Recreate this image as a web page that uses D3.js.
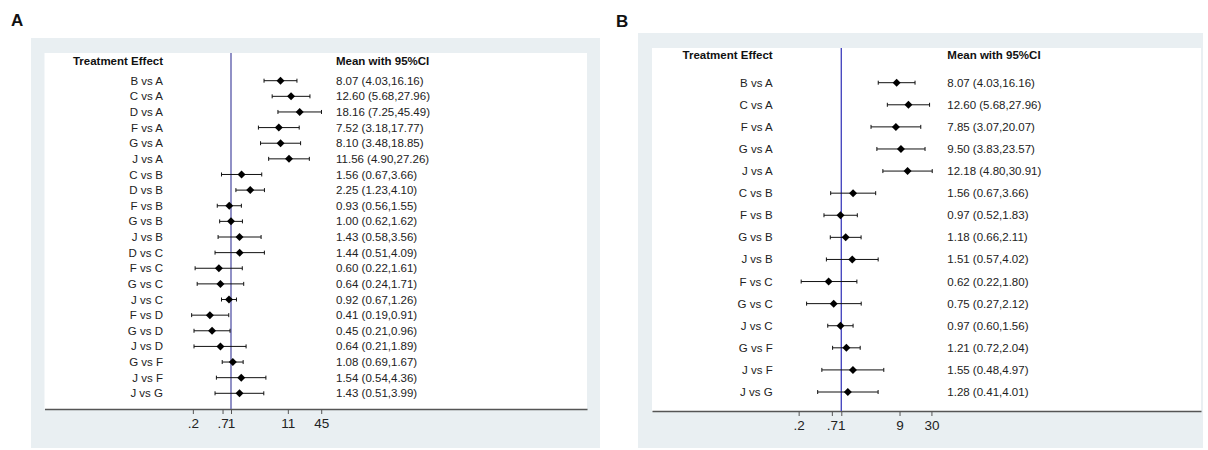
<!DOCTYPE html>
<html>
<head>
<meta charset="utf-8">
<script src="https://cdn.jsdelivr.net/npm/d3@7"></script>
<style>
  html, body { margin: 0; padding: 0; background: #fff; }
  svg { display: block; font-family: "Liberation Sans", Arial, sans-serif; }
</style>
</head>
<body>
<svg id="chart" width="1208" height="450"></svg>
<script>
// ---------- Panel A data ----------
const categoriesA = ["B vs A","C vs A","D vs A","F vs A","G vs A","J vs A","C vs B","D vs B","F vs B","G vs B","J vs B","D vs C","F vs C","G vs C","J vs C","F vs D","G vs D","J vs D","G vs F","J vs F","J vs G"];
const meanA  = [8.07, 12.60, 18.16, 7.52, 8.10, 11.56, 1.56, 2.25, 0.93, 1.00, 1.43, 1.44, 0.60, 0.64, 0.92, 0.41, 0.45, 0.64, 1.08, 1.54, 1.43];
const lowerA = [4.03, 5.68, 7.25, 3.18, 3.48, 4.90, 0.67, 1.23, 0.56, 0.62, 0.58, 0.51, 0.22, 0.24, 0.67, 0.19, 0.21, 0.21, 0.69, 0.54, 0.51];
const upperA = [16.16, 27.96, 45.49, 17.77, 18.85, 27.26, 3.66, 4.10, 1.55, 1.62, 3.56, 4.09, 1.61, 1.71, 1.26, 0.91, 0.96, 1.89, 1.67, 4.36, 3.99];
const ticksA = [0.2, 0.7, 1, 11, 45];
const tickLabelsA = [".2", ".7", "1", "11", "45"];

// ---------- Panel B data ----------
const categoriesB = ["B vs A","C vs A","F vs A","G vs A","J vs A","C vs B","F vs B","G vs B","J vs B","F vs C","G vs C","J vs C","G vs F","J vs F","J vs G"];
const meanB  = [8.07, 12.60, 7.85, 9.50, 12.18, 1.56, 0.97, 1.18, 1.51, 0.62, 0.75, 0.97, 1.21, 1.55, 1.28];
const lowerB = [4.03, 5.68, 3.07, 3.83, 4.80, 0.67, 0.52, 0.66, 0.57, 0.22, 0.27, 0.60, 0.72, 0.48, 0.41];
const upperB = [16.16, 27.96, 20.07, 23.57, 30.91, 3.66, 1.83, 2.11, 4.02, 1.80, 2.12, 1.56, 2.04, 4.97, 4.01];
const ticksB = [0.2, 0.7, 1, 9, 30];
const tickLabelsB = [".2", ".7", "1", "9", "30"];

const headerLeft = "Treatment Effect";
const headerRight = "Mean with 95%CI";

const svg = d3.select("#chart");
const fmt = d3.format(".2f");

function drawPanel(p) {
  const g = svg.append("g");
  // panel letter
  g.append("text").attr("x", p.letterX).attr("y", p.letterY)
    .attr("font-size", 17).attr("font-weight", "bold").attr("fill", "#111")
    .text(p.letter);
  // outer grey box
  g.append("rect").attr("x", p.outer[0]).attr("y", p.outer[1])
    .attr("width", p.outer[2] - p.outer[0]).attr("height", p.outer[3] - p.outer[1])
    .attr("fill", "#e9eff2");
  // inner white region
  g.append("rect").attr("x", p.inner[0]).attr("y", p.inner[1])
    .attr("width", p.inner[2] - p.inner[0]).attr("height", p.inner[3] - p.inner[1])
    .attr("fill", "#ffffff");

  const lo = Math.exp((p.inner[0] - p.refX) / p.slope);
  const hi = Math.exp((p.inner[2] - p.refX) / p.slope);
  const x = d3.scaleLog().domain([lo, hi]).range([p.inner[0], p.inner[2]]);
  const y = d3.scalePoint().domain(p.categories).range([p.rowFirst, p.rowLast]);

  // axis
  const axis = d3.axisBottom(x).tickValues(p.ticks)
    .tickFormat((d, i) => p.tickLabels[i]).tickSize(5).tickSizeOuter(0).tickPadding(4);
  const ag = g.append("g").attr("transform", `translate(0,${p.inner[3]})`).call(axis);
  ag.select(".domain").attr("stroke", "#555").attr("stroke-width", 1.6);
  ag.selectAll(".tick line").attr("stroke", "#555").attr("stroke-width", 1);
  ag.selectAll(".tick text").attr("font-size", 13.5).attr("fill", "#222")
    .attr("font-family", "'Liberation Sans', Arial, sans-serif");

  // reference line at 1
  g.append("line").attr("x1", x(1)).attr("x2", x(1))
    .attr("y1", p.inner[1]).attr("y2", p.inner[3])
    .attr("stroke", p.refColor).attr("stroke-width", 1.4);

  // headers
  g.append("text").attr("x", p.labelRight).attr("y", p.headerY).attr("dy", "0.35em")
    .attr("text-anchor", "end").attr("font-size", 11.5).attr("font-weight", "bold")
    .attr("fill", "#111").text(headerLeft);
  g.append("text").attr("x", p.valueLeft).attr("y", p.headerY).attr("dy", "0.35em")
    .attr("font-size", 11.5).attr("font-weight", "bold")
    .attr("fill", "#111").text(headerRight);

  const rows = p.categories.map((c, i) => ({c, m: p.mean[i], l: p.lower[i], u: p.upper[i]}));

  // row labels
  g.selectAll(".rl").data(rows).enter().append("text")
    .attr("x", p.labelRight).attr("y", d => y(d.c)).attr("dy", "0.35em")
    .attr("text-anchor", "end").attr("font-size", 11.5).attr("fill", "#222")
    .text(d => d.c);
  // value labels
  g.selectAll(".vl").data(rows).enter().append("text")
    .attr("x", p.valueLeft).attr("y", d => y(d.c)).attr("dy", "0.35em")
    .attr("font-size", 11.5).attr("fill", "#222")
    .text(d => `${fmt(d.m)} (${fmt(d.l)},${fmt(d.u)})`);

  // CI lines
  g.selectAll(".ci").data(rows).enter().append("line")
    .attr("x1", d => x(d.l)).attr("x2", d => x(d.u))
    .attr("y1", d => y(d.c)).attr("y2", d => y(d.c))
    .attr("stroke", "#111").attr("stroke-width", 1);
  // caps
  ["l", "u"].forEach(k => {
    g.selectAll(".cap" + k).data(rows).enter().append("line")
      .attr("x1", d => x(d[k])).attr("x2", d => x(d[k]))
      .attr("y1", d => y(d.c) - 2).attr("y2", d => y(d.c) + 2)
      .attr("stroke", "#111").attr("stroke-width", 1);
  });
  // diamonds
  const s = p.diamond;
  g.selectAll(".dm").data(rows).enter().append("path")
    .attr("transform", d => `translate(${x(d.m)},${y(d.c)})`)
    .attr("d", `M0,${-s}L${s},0L0,${s}L${-s},0Z`)
    .attr("fill", "#000");
}

drawPanel({
  letter: "A", letterX: 11, letterY: 26,
  outer: [31, 38, 600, 448], inner: [44.5, 53, 587, 409],
  refX: 231, slope: 23.7, refColor: "#6262ae",
  rowFirst: 80.7, rowLast: 393.3, headerY: 61,
  labelRight: 163, valueLeft: 336,
  categories: categoriesA, mean: meanA, lower: lowerA, upper: upperA,
  ticks: ticksA, tickLabels: tickLabelsA, diamond: 4
});

drawPanel({
  letter: "B", letterX: 616, letterY: 27,
  outer: [638, 33, 1203, 448], inner: [652, 48, 1201, 411],
  refX: 841.3, slope: 26.5, refColor: "#4a4ac0",
  rowFirst: 82.7, rowLast: 392, headerY: 55,
  labelRight: 772.7, valueLeft: 947.3,
  categories: categoriesB, mean: meanB, lower: lowerB, upper: upperB,
  ticks: ticksB, tickLabels: tickLabelsB, diamond: 4
});
</script>
</body>
</html>
